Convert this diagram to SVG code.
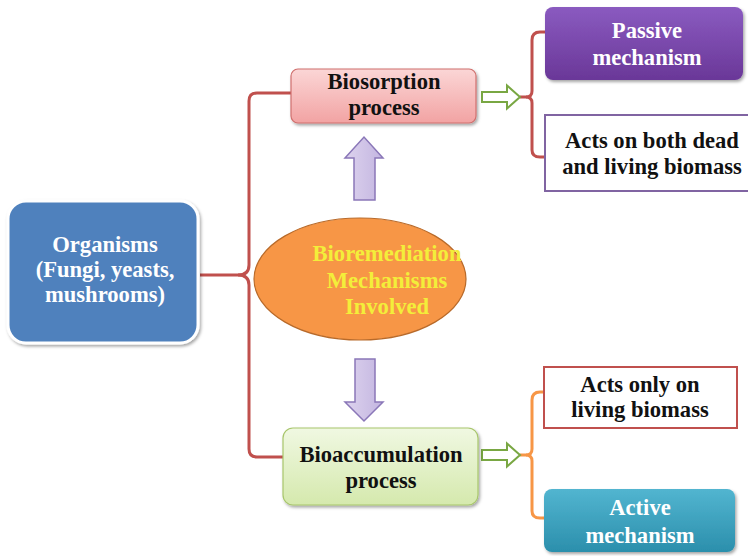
<svg xmlns="http://www.w3.org/2000/svg" width="748" height="556" viewBox="0 0 748 556">
  <defs>
    <linearGradient id="gPink" x1="0" y1="0" x2="0" y2="1">
      <stop offset="0" stop-color="#fbd6d6"/>
      <stop offset="1" stop-color="#f2a3a3"/>
    </linearGradient>
    <linearGradient id="gGreen" x1="0" y1="0" x2="0" y2="1">
      <stop offset="0" stop-color="#f0f8e2"/>
      <stop offset="1" stop-color="#d5e9ad"/>
    </linearGradient>
    <linearGradient id="gPurple" x1="0" y1="0" x2="0" y2="1">
      <stop offset="0" stop-color="#8a5bc0"/>
      <stop offset="1" stop-color="#6a3798"/>
    </linearGradient>
    <linearGradient id="gTeal" x1="0" y1="0" x2="0" y2="1">
      <stop offset="0" stop-color="#52b5d0"/>
      <stop offset="1" stop-color="#2b8fac"/>
    </linearGradient>
    <linearGradient id="gLav" x1="0" y1="0" x2="1" y2="0">
      <stop offset="0" stop-color="#ddd3ee"/>
      <stop offset="1" stop-color="#c3b5e0"/>
    </linearGradient>
    <filter id="shadow" x="-10%" y="-10%" width="130%" height="140%">
      <feDropShadow dx="1.5" dy="2" stdDeviation="1.6" flood-color="#000" flood-opacity="0.35"/>
    </filter>
    <style>
      .lbl { font-weight: bold; font-size: 22.6px; text-anchor: middle; }
      .dark { fill: #111; }
      .light { fill: #fff; }
      .yellow { fill: #f3ee3a; }
      .red { fill: none; stroke: #c0504d; stroke-width: 3; }
      .orange { fill: none; stroke: #f79646; stroke-width: 3; }
      .hollow { fill: #fff; stroke: #79a743; stroke-width: 2; stroke-linejoin: miter; }
      .lav { fill: url(#gLav); stroke: #8a77b8; stroke-width: 1.5; }
    </style>
  </defs>

  <rect width="748" height="556" fill="#fff"/>

  <!-- connectors -->
  <g id="connectors">
    <!-- brace from organisms to the two processes -->
    <path class="red" d="M200,275 H238 Q249,275 249,265 V101 Q249,93 257,93 H292"/>
    <path class="red" d="M238,275 Q249,275 249,285 V449 Q249,457 257,457 H284"/>
    <!-- brace after biosorption -->
    <path class="red" d="M520,97 H526 Q532,97 532,91 V40 Q532,32 540,32 H546"/>
    <path class="red" d="M526,97 Q532,97 532,103 V150 Q532,157 540,157 H545"/>
    <!-- brace after bioaccumulation -->
    <path class="orange" d="M520,455 H526 Q532,455 532,449 V400 Q532,392 540,392 H545"/>
    <path class="orange" d="M526,455 Q532,455 532,461 V511 Q532,518 540,518 H545"/>
    <!-- hollow arrows -->
    <path class="hollow" d="M482,92 H507 V85.5 L520,97 L507,108.5 V102 H482 Z"/>
    <path class="hollow" d="M482,450 H507 V443.5 L520,455 L507,466.5 V460 H482 Z"/>
    <!-- block arrows from the centre -->
    <path class="lav" d="M354,200 V158 H345 L364,137 L383,158 H375 V200 Z"/>
    <path class="lav" d="M355,359 H375 V402 H383 L364,421 L345,402 H355 Z"/>
  </g>

  <g font-family="'Liberation Serif', 'DejaVu Serif', serif">
  <g id="organisms">
    <rect x="8" y="201" width="190" height="142" rx="18" fill="#4f81bd" stroke="#fff" stroke-width="3" filter="url(#shadow)"/>
    <text class="lbl light" x="105" y="252">Organisms</text>
    <text class="lbl light" x="105" y="277">(Fungi, yeasts,</text>
    <text class="lbl light" x="105" y="302">mushrooms)</text>
  </g>

  <g id="biosorption">
    <rect x="291" y="69" width="185" height="54" rx="7" fill="url(#gPink)" stroke="#d0706e" stroke-width="1.2" filter="url(#shadow)"/>
    <text class="lbl dark" x="384" y="89">Biosorption</text>
    <text class="lbl dark" x="384" y="115">process</text>
  </g>

  <g id="mechanisms">
    <ellipse cx="360" cy="279" rx="106" ry="61" fill="#f79646" stroke="#b86a2a" stroke-width="1.2"/>
    <text class="lbl yellow" x="387" y="261">Bioremediation</text>
    <text class="lbl yellow" x="387" y="288">Mechanisms</text>
    <text class="lbl yellow" x="387" y="314">Involved</text>
  </g>

  <g id="bioaccumulation">
    <rect x="283" y="428" width="195" height="77" rx="10" fill="url(#gGreen)" stroke="#a8c66c" stroke-width="1.2" filter="url(#shadow)"/>
    <text class="lbl dark" x="381" y="462">Bioaccumulation</text>
    <text class="lbl dark" x="381" y="488">process</text>
  </g>

  <g id="passive">
    <rect x="545" y="7" width="198" height="73" rx="8" fill="url(#gPurple)" filter="url(#shadow)"/>
    <text class="lbl light" x="647" y="38">Passive</text>
    <text class="lbl light" x="647" y="65">mechanism</text>
  </g>

  <g id="both-biomass">
    <rect x="545" y="115" width="215" height="76" fill="#fff" stroke="#8064a2" stroke-width="2"/>
    <text class="lbl dark" x="652" y="148">Acts on both dead</text>
    <text class="lbl dark" x="652" y="174">and living biomass</text>
  </g>

  <g id="living-biomass">
    <rect x="544" y="367" width="193" height="61" fill="#fff" stroke="#c0504d" stroke-width="2"/>
    <text class="lbl dark" x="640" y="392">Acts only on</text>
    <text class="lbl dark" x="640" y="417">living biomass</text>
  </g>

  <g id="active">
    <rect x="544" y="489" width="191" height="63" rx="8" fill="url(#gTeal)" filter="url(#shadow)"/>
    <text class="lbl light" x="640" y="515">Active</text>
    <text class="lbl light" x="640" y="543">mechanism</text>
  </g>
  </g>
</svg>
